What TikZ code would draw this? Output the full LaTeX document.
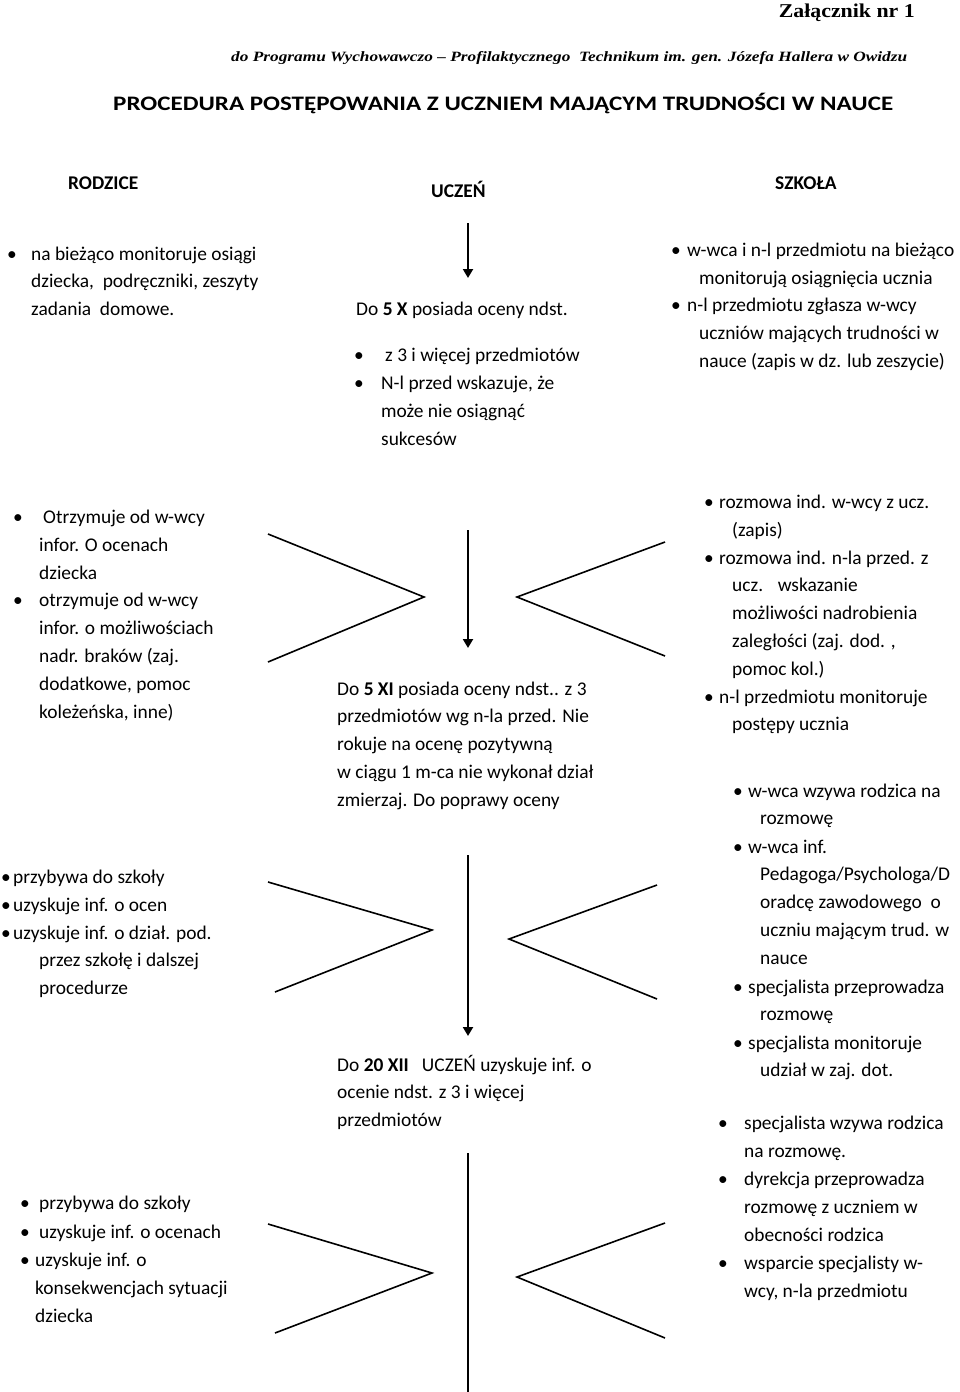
\documentclass[tikz,border=0pt]{standalone}
\usepackage{fontspec}
\usepackage{graphicx}
\setmainfont{Carlito}
\newfontfamily\serifhead{Liberation Serif}
\usetikzlibrary{arrows.meta}
\newcommand\bodyfont{\fontsize{19.4}{27.8}\selectfont}
\newcommand\ml[1]{\begin{tabular}[t]{@{}l@{}}#1\end{tabular}}
\begin{document}
\begin{tikzpicture}[x=1pt,y=-1pt,
  txt/.style={anchor=base west, inner sep=0pt, font=\bodyfont},
  bul/.style={anchor=base, inner sep=0pt, font=\bodyfont},
  hdr/.style={anchor=base west, inner sep=0pt, font=\fontsize{19.4}{20}\selectfont\bfseries},
  chev/.style={line width=1.6pt, line join=miter},
  flow/.style={line width=2pt, -{Triangle[length=9pt,width=10pt]}},
  plainline/.style={line width=2pt}]
\useasboundingbox (0,0) rectangle (960,1392);

% ---------- headings ----------
\node[anchor=base east, inner sep=0pt] (zal) at (915,17)
  {\resizebox{136pt}{\height}{\fontsize{19.6}{20}\serifhead\bfseries Załącznik nr 1}};
\node[anchor=base west, inner sep=0pt] (sub) at (231,61.5)
  {\resizebox{676pt}{\height}{\fontsize{14.2}{15}\serifhead\bfseries\itshape do Programu Wychowawczo – Profilaktycznego \ Technikum im. gen. Józefa Hallera w Owidzu}};
\node[anchor=base west, inner sep=0pt] (proc) at (113,110)
  {\resizebox{780pt}{\height}{\fontsize{20.6}{21}\selectfont\bfseries PROCEDURA POSTĘPOWANIA Z UCZNIEM MAJĄCYM TRUDNOŚCI W NAUCE}};

\node[hdr] (rodz) at (68,189.3) {RODZICE};
\node[hdr] (ucz) at (431,197.7) {UCZEŃ};
\node[hdr] (szk) at (775,189.3) {SZKOŁA};

% ---------- tier 1 ----------
\node[bul] (b11) at (12,260) {•};
\node[txt] (t11) at (31,260) {\ml{na bieżąco monitoruje osiągi\\dziecka, \ podręczniki, zeszyty\\zadania \ domowe.}};

\coordinate (a1s) at (468,223);
\coordinate (a1e) at (468,278);
\draw[flow] (a1s) -- (a1e);

\node[txt] (m1) at (356,315) {Do \textbf{5 X} posiada oceny ndst.};
\node[bul] (mb11) at (359,361.7) {•};
\node[txt] (m11) at (385,361.7) {z 3 i więcej przedmiotów};
\node[bul] (mb12) at (359,389.5) {•};
\node[txt] (m12) at (381,389.5) {\ml{N-l przed wskazuje, że\\może nie osiągnąć\\sukcesów}};

\node[bul] (rb11) at (676,256.7) {•};
\node[txt] (r11) at (699,256.7) {\ml{\hspace*{-12pt}w-wca i n-l przedmiotu na bieżąco\\monitorują osiągnięcia ucznia}};
\node[bul] (rb12) at (676,311.7) {•};
\node[txt] (r12) at (699,311.7) {\ml{\hspace*{-12pt}n-l przedmiotu zgłasza w-wcy\\uczniów mających trudności w\\nauce (zapis w dz. lub zeszycie)}};

% ---------- tier 2 ----------
\node[bul] (lb21) at (18,523.5) {•};
\node[txt] (l21) at (39,523.5) {\ml{\hspace*{4pt}Otrzymuje od w-wcy\\infor. O ocenach\\dziecka}};
\node[bul] (lb22) at (18,606.9) {•};
\node[txt] (l22) at (39,606.9) {\ml{otrzymuje od w-wcy\\infor. o możliwościach\\nadr. braków (zaj.\\dodatkowe, pomoc\\koleżeńska, inne)}};

\coordinate (cl2a) at (268,534);
\coordinate (cl2t) at (424,597);
\coordinate (cl2b) at (268,662);
\draw[chev] (cl2a) -- (cl2t) -- (cl2b);

\coordinate (a2s) at (468,530);
\coordinate (a2e) at (468,648);
\draw[flow] (a2s) -- (a2e);

\coordinate (cr2a) at (665,542);
\coordinate (cr2t) at (517,597);
\coordinate (cr2b) at (665,656);
\draw[chev] (cr2a) -- (cr2t) -- (cr2b);

\node[txt] (m2) at (337,695) {\ml{Do \textbf{5 XI} posiada oceny ndst.. z 3\\przedmiotów wg n-la przed. Nie\\rokuje na ocenę pozytywną\\w ciągu 1 m-ca nie wykonał dział\\zmierzaj. Do poprawy oceny}};

\node[bul] (rb21) at (709,508.3) {•};
\node[txt] (r21) at (732,508.3) {\ml{\hspace*{-13pt}rozmowa ind. w-wcy z ucz.\\(zapis)}};
\node[bul] (rb22) at (709,564) {•};
\node[txt] (r22) at (732,564) {\ml{\hspace*{-13pt}rozmowa ind. n-la przed. z\\ucz. \ \ wskazanie\\możliwości nadrobienia\\zaległości (zaj. dod. ,\\pomoc kol.)}};
\node[bul] (rb23) at (709,703) {•};
\node[txt] (r23) at (732,703) {\ml{\hspace*{-13pt}n-l przedmiotu monitoruje\\postępy ucznia}};

% ---------- tier 3 ----------
\node[bul] (lb31) at (6,883.3) {•};
\node[txt] (l31) at (13,883.3) {przybywa do szkoły};
\node[bul] (lb32) at (6,911) {•};
\node[txt] (l32) at (13,911) {uzyskuje inf. o ocen};
\node[bul] (lb33) at (6,939) {•};
\node[txt] (l33) at (39,939) {\ml{\hspace*{-26pt}uzyskuje inf. o dział. pod.\\przez szkołę i dalszej\\procedurze}};

\coordinate (cl3a) at (268,882);
\coordinate (cl3t) at (432,930);
\coordinate (cl3b) at (275,992);
\draw[chev] (cl3a) -- (cl3t) -- (cl3b);

\coordinate (a3s) at (468,855);
\coordinate (a3e) at (468,1036);
\draw[flow] (a3s) -- (a3e);

\coordinate (cr3a) at (657,885);
\coordinate (cr3t) at (509,939);
\coordinate (cr3b) at (657,999);
\draw[chev] (cr3a) -- (cr3t) -- (cr3b);

\node[txt] (m3) at (337,1071) {\ml{Do \textbf{20 XII} \ \ UCZEŃ uzyskuje inf. o\\ocenie ndst. z 3 i więcej\\przedmiotów}};

\node[bul] (rb31) at (738,797) {•};
\node[txt] (r31) at (760,797) {\ml{\hspace*{-12pt}w-wca wzywa rodzica na\\rozmowę}};
\node[bul] (rb32) at (738,853) {•};
\node[txt] (r32) at (760,853) {\ml{\hspace*{-12pt}w-wca inf.\\Pedagoga/Psychologa/D\\oradcę zawodowego \ o\\uczniu mającym trud. w\\nauce}};
\node[bul] (rb33) at (738,993) {•};
\node[txt] (r33) at (760,993) {\ml{\hspace*{-12pt}specjalista przeprowadza\\rozmowę}};
\node[bul] (rb34) at (738,1049) {•};
\node[txt] (r34) at (760,1049) {\ml{\hspace*{-12pt}specjalista monitoruje\\udział w zaj. dot.}};

% ---------- tier 4 ----------
\node[bul] (lb41) at (25,1209.3) {•};
\node[txt] (l41) at (39,1209.3) {przybywa do szkoły};
\node[bul] (lb42) at (25,1238) {•};
\node[txt] (l42) at (39,1238) {uzyskuje inf. o ocenach};
\node[bul] (lb43) at (25,1266.7) {•};
\node[txt] (l43) at (35,1266.7) {\ml{uzyskuje inf. o\\konsekwencjach sytuacji\\dziecka}};

\coordinate (cl4a) at (268,1224);
\coordinate (cl4t) at (432,1273);
\coordinate (cl4b) at (275,1333);
\draw[chev] (cl4a) -- (cl4t) -- (cl4b);

\coordinate (a4s) at (468,1153);
\coordinate (a4e) at (468,1392);
\draw[plainline] (a4s) -- (a4e);

\coordinate (cr4a) at (665,1223);
\coordinate (cr4t) at (517,1277);
\coordinate (cr4b) at (665,1338);
\draw[chev] (cr4a) -- (cr4t) -- (cr4b);

\node[bul] (rb41) at (723,1129.5) {•};
\node[txt] (r41) at (744,1129.5) {\ml{specjalista wzywa rodzica\\na rozmowę.}};
\node[bul] (rb42) at (723,1185.5) {•};
\node[txt] (r42) at (744,1185.5) {\ml{dyrekcja przeprowadza\\rozmowę z uczniem w\\obecności rodzica}};
\node[bul] (rb43) at (723,1269.5) {•};
\node[txt] (r43) at (744,1269.5) {\ml{wsparcie specjalisty w-\\wcy, n-la przedmiotu}};
\end{tikzpicture}
\end{document}
